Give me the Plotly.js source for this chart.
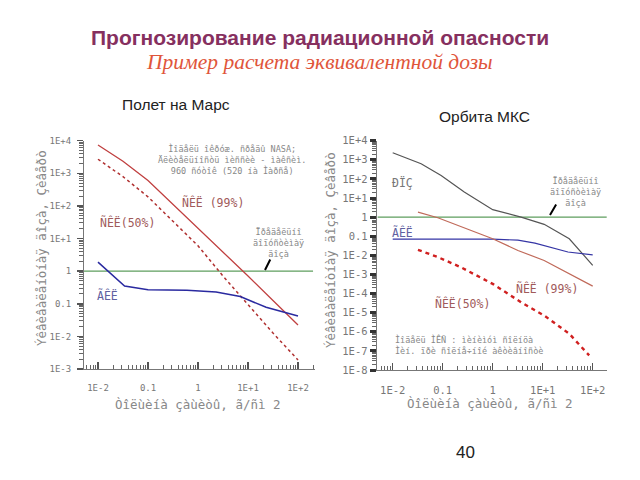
<!DOCTYPE html>
<html><head><meta charset="utf-8">
<script src="https://cdn.plot.ly/plotly-3.0.1.min.js"></script>
<style>body{margin:0;background:#fff}#c{width:640px;height:480px}</style>
</head><body><div id="c"></div>
<script>
// ---- Data: Mars flight (left panel) ----
const marsX = [0.01, 0.0316, 0.1, 0.316, 1, 3.16, 10, 31.6, 100];
const marsSCR99 = [7400, 2340, 600, 112, 21, 3.8, 0.71, 0.126, 0.0224];
const marsSCR50 = [2700, 790, 190, 35, 6.0, 0.71, 0.095, 0.0126, 0.0019];
const marsGCRX = [0.01, 0.034, 0.1, 0.6, 2.3, 7, 23, 60, 100];
const marsGCR = [1.9, 0.35, 0.27, 0.26, 0.23, 0.166, 0.078, 0.051, 0.042];
// ---- Data: ISS orbit (right panel) ----
const issERBX = [0.01, 0.037, 0.093, 0.27, 1, 3.7, 10.7, 34, 100];
const issERB = [2340, 620, 150, 20.4, 2.45, 1.0, 0.42, 0.074, 0.003];
const issGCRX = [0.01, 0.1, 1, 3.2, 7, 32, 100];
const issGCR = [0.071, 0.071, 0.07, 0.063, 0.044, 0.015, 0.0107];
const issSCR99X = [0.032, 0.08, 1, 3.2, 10.7, 34, 100];
const issSCR99 = [1.82, 0.93, 0.074, 0.018, 0.0054, 0.0011, 0.000245];
const issSCR50X = [0.032, 0.08, 0.23, 1, 3.7, 10.7, 34, 85];
const issSCR50 = [0.0195, 0.0081, 0.0024, 0.00032, 3.5e-5, 7.1e-6, 7.9e-7, 5.8e-8];
const limitX = [0.005, 200];
const limitY = [1, 1];
// ---- Tick labels ----
const xTickVals = [0.01, 0.1, 1, 10, 100];
const xTickText = ['1E-2', '0.1', '1', '1E+1', '1E+2'];
const yTickValsL = [1e4, 1e3, 1e2, 10, 1, 0.1, 0.01, 0.001];
const yTickTextL = ['1E+4', '1E+3', '1E+2', '1E+1', '1', '0.1', '1E-2', '1E-3'];
const yTickValsR = [1e4, 1e3, 1e2, 10, 1, 0.1, 0.01, 1e-3, 1e-4, 1e-5, 1e-6, 1e-7, 1e-8];
const yTickTextR = ['1E+4', '1E+3', '1E+2', '1E+1', '1', '0.1', '1E-2', '1E-3', '1E-4', '1E-5', '1E-6', '1E-7', '1E-8'];

// minor tick positions (2..9 within each decade)
function minorTicks(lo, hi) {
  const out = [];
  for (let e = lo; e < hi; e++) for (let k = 2; k <= 9; k++) out.push(k * Math.pow(10, e));
  return out;
}

const PX = x => x / 640, PY = y => 1 - y / 480;
const tickFontL = {family: 'DejaVu Sans Mono', size: 9, color: '#777'};
const tickFontR = {family: 'DejaVu Sans Mono', size: 10.5, color: '#777'};
const labFont = (c, s) => ({family: 'DejaVu Sans Mono', size: s || 11, color: c});

const traces = [
  {x: limitX, y: limitY, xaxis: 'x', yaxis: 'y', mode: 'lines', line: {color: '#5e9e5e', width: 1.2}},
  {x: marsX, y: marsSCR99, xaxis: 'x', yaxis: 'y', mode: 'lines', line: {color: '#c04040', width: 1.3}},
  {x: marsX, y: marsSCR50, xaxis: 'x', yaxis: 'y', mode: 'lines', line: {color: '#b03030', width: 1.5, dash: 'dot'}},
  {x: marsGCRX, y: marsGCR, xaxis: 'x', yaxis: 'y', mode: 'lines', line: {color: '#2a2aa0', width: 1.5}},
  {x: limitX, y: limitY, xaxis: 'x2', yaxis: 'y2', mode: 'lines', line: {color: '#5e9e5e', width: 1.2}},
  {x: issERBX, y: issERB, xaxis: 'x2', yaxis: 'y2', mode: 'lines', line: {color: '#555', width: 1.2}},
  {x: issGCRX, y: issGCR, xaxis: 'x2', yaxis: 'y2', mode: 'lines', line: {color: '#3535a5', width: 1.2}},
  {x: issSCR99X, y: issSCR99, xaxis: 'x2', yaxis: 'y2', mode: 'lines', line: {color: '#c06a5a', width: 1.2}},
  {x: issSCR50X, y: issSCR50, xaxis: 'x2', yaxis: 'y2', mode: 'lines', line: {color: '#d02020', width: 2.4, dash: '4px,4px'}}
];

const axBase = {type: 'log', showgrid: false, zeroline: false, showline: true, linecolor: '#777', linewidth: 1,
  automargin: false, ticks: 'outside', ticklen: 6, tickwidth: 1.5, tickcolor: '#555'};
const minorOf = (lo, hi, side) => ({tickmode: 'array', tickvals: minorTicks(lo, hi), ticks: side, ticklen: 4, tickwidth: 1, tickcolor: '#666', showgrid: false});
const xExtra = {ticks: 'inside', ticklen: 7, ticklabelstandoff: 10};

const ann = (text, x, y, font, extra) => Object.assign({text: text, x: PX(x), y: PY(y), xref: 'paper', yref: 'paper',
  showarrow: false, xanchor: 'center', yanchor: 'middle', font: font}, extra || {});
const axTitleFont = labFont('#888', 12.5);

const layout = {
  width: 640, height: 480, margin: {l: 0, r: 0, t: 0, b: 0}, showlegend: false,
  paper_bgcolor: '#fff', plot_bgcolor: 'rgba(0,0,0,0)',
  xaxis: Object.assign({}, axBase, xExtra, {domain: [PX(84), PX(315)], range: [-2.28, 2.34], anchor: 'y',
    tickfont: tickFontL, tickvals: xTickVals, ticktext: xTickText, minor: minorOf(-3, 3, 'inside')}),
  yaxis: Object.assign({}, axBase, {domain: [PY(369), PY(140.7)], range: [-3, 4], anchor: 'x',
    tickfont: tickFontL, ticklabelstandoff: 4,
    tickvals: yTickValsL, ticktext: yTickTextL, minor: minorOf(-3, 4, 'outside')}),
  xaxis2: Object.assign({}, axBase, xExtra, {domain: [PX(376.7), PX(606.7)], range: [-2.32, 2.28], anchor: 'y2',
    tickfont: tickFontR, tickvals: xTickVals, ticktext: xTickText, minor: minorOf(-3, 3, 'inside')}),
  yaxis2: Object.assign({}, axBase, {domain: [PY(370), PY(140.7)], range: [-8, 4], anchor: 'x2',
    tickfont: tickFontR,
    tickvals: yTickValsR, ticktext: yTickTextR, tickwidth: 3, tickcolor: '#333', minor: minorOf(-8, 4, 'outside')}),
  annotations: [
    ann('<b>Прогнозирование радиационной опасности</b>', 320, 38, {family: 'Liberation Sans', size: 21, color: '#86305f'}),
    ann('<i>Пример расчета эквивалентной дозы</i>', 319, 62, {family: 'Liberation Serif', size: 21.5, color: '#e0553a'}),
    ann('Полет на Марс', 176, 104, {family: 'Liberation Sans', size: 15.5, color: '#222'}),
    ann('Орбита МКС', 484, 116, {family: 'Liberation Sans', size: 15.5, color: '#222'}),
    ann('40', 465, 452, {family: 'Liberation Sans', size: 17, color: '#222'}),
    // axis titles
    ann('Òîëùèíà çàùèòû, ã/ñì 2', 198, 404, axTitleFont),
    ann('Òîëùèíà çàùèòû, ã/ñì 2', 490, 403, axTitleFont),
    ann('Ýêâèâàëåíòíàÿ äîçà, Çèâåðò', 41, 248, axTitleFont, {textangle: -90}),
    ann('Ýêâèâàëåíòíàÿ äîçà, Çèâåðò', 330, 250, axTitleFont, {textangle: -90}),
    // left panel labels
    ann('Ìîäåëü îêðóæ. ñðåäû NASA;<br>Äëèòåëüíîñòü ìèññèè - ìàêñèì.<br>960 ñóòîê (520 íà Ìàðñå)', 232, 160, labFont('#888', 8.5)),
    ann('ÑÊË (99%)', 213, 202, labFont('#a05a5a', 11.5)),
    ann('ÑÊË(50%)', 127, 222, labFont('#a05a5a', 11.5)),
    ann('ÃÊË', 107, 295, labFont('#6060a0', 11.5)),
    ann('Ïðåäåëüíî<br>äîïóñòèìàÿ<br>äîçà', 278, 243, labFont('#888', 8.5)),
    ann('', 265, 270, {}, {showarrow: true, arrowhead: 0, arrowwidth: 2, arrowcolor: '#000', ax: 6, ay: -12}),
    // right panel labels
    ann('ÐÏÇ', 402, 182, labFont('#777', 11.5)),
    ann('ÃÊË', 402, 232, labFont('#6060a0', 11.5)),
    ann('ÑÊË (99%)', 547, 288, labFont('#a05a5a', 11.5)),
    ann('ÑÊË(50%)', 462, 303, labFont('#a05a5a', 11.5)),
    ann('Ïðåäåëüíî<br>äîïóñòèìàÿ<br>äîçà', 575, 192, labFont('#888', 8.5)),
    ann('', 550, 215, {}, {showarrow: true, arrowhead: 0, arrowwidth: 2, arrowcolor: '#000', ax: 7, ay: -12}),
    ann('Ìîäåëü ÌÊÑ : ìèíèìóì ñîëíöà<br>Ìèí. ïðè ñîëíå÷íîé àêòèâíîñòè', 393, 345, labFont('#888', 8.5), {xanchor: 'left', align: 'left'})
  ]
};
Plotly.newPlot('c', traces, layout, {displayModeBar: false, staticPlot: true});
</script></body></html>
